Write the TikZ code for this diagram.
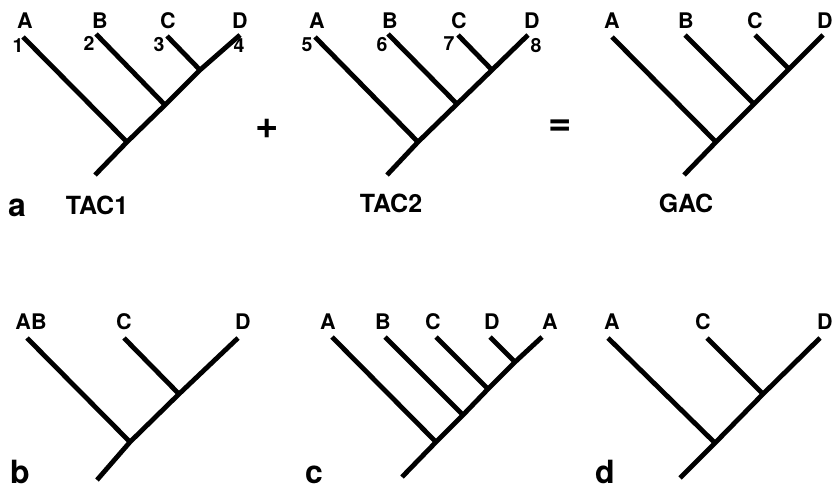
\documentclass[tikz,border=0pt]{standalone}
\usepackage{fontspec}
\setmainfont{TeX Gyre Heros}
\begin{document}
\begin{tikzpicture}[x=1bp,y=-1bp,
  br/.style={line width=4.8bp},
  tiplab/.style={font=\fontsize{21.5bp}{22bp}\selectfont\bfseries, anchor=base, inner sep=0pt},
  numlab/.style={font=\fontsize{19.5bp}{20bp}\selectfont\bfseries, anchor=base, inner sep=0pt},
  treelab/.style={font=\fontsize{25bp}{25bp}\selectfont\bfseries, anchor=base, inner sep=0pt},
  panlab/.style={font=\fontsize{32bp}{32bp}\selectfont\bfseries, anchor=base, inner sep=0pt},
  oplab/.style={font=\fontsize{40bp}{40bp}\selectfont\bfseries, inner sep=0pt}]
\useasboundingbox (0,0) rectangle (834,489);

% ---------- Tree a: TAC1 ----------
\coordinate (a-A) at (23,37);
\coordinate (a-B) at (96,34);
\coordinate (a-C) at (167,36);
\coordinate (a-D) at (240,35);
\coordinate (a-j1) at (127,142);
\coordinate (a-j2) at (165,105);
\coordinate (a-j3) at (200,70);
\coordinate (a-r) at (95,175);
\draw[br] (a-r) -- (a-j1) -- (a-j2) -- (a-j3) -- (a-D);
\draw[br] (a-A) -- (a-j1);
\draw[br] (a-B) -- (a-j2);
\draw[br] (a-C) -- (a-j3);
\node[tiplab] (a-lA) at (25,29) {A};
\node[tiplab] (a-lB) at (100,29) {B};
\node[tiplab] (a-lC) at (168,29) {C};
\node[tiplab] (a-lD) at (240,29) {D};
\node[numlab] (a-n1) at (18,53) {1};
\node[numlab] (a-n2) at (89,51) {2};
\node[numlab] (a-n3) at (159,52) {3};
\node[numlab] (a-n4) at (239,53) {4};
\node[panlab] (pa) at (17,217) {a};
\node[treelab] (tac1) at (97,215) {TAC1};
\node[oplab] (plus) at (267,129) {+};

% ---------- Tree TAC2 ----------
\coordinate (t-A) at (315,37);
\coordinate (t-B) at (388,34);
\coordinate (t-C) at (458,35);
\coordinate (t-D) at (528,35);
\coordinate (t-j1) at (418,142);
\coordinate (t-j2) at (457,104);
\coordinate (t-j3) at (492,70);
\coordinate (t-r) at (387,175);
\draw[br] (t-r) -- (t-j1) -- (t-j2) -- (t-j3) -- (t-D);
\draw[br] (t-A) -- (t-j1);
\draw[br] (t-B) -- (t-j2);
\draw[br] (t-C) -- (t-j3);
\node[tiplab] (t-lA) at (317,29) {A};
\node[tiplab] (t-lB) at (390,29) {B};
\node[tiplab] (t-lC) at (459,29) {C};
\node[tiplab] (t-lD) at (532,29) {D};
\node[numlab] (t-n5) at (307,52) {5};
\node[numlab] (t-n6) at (382,52) {6};
\node[numlab] (t-n7) at (449,51) {7};
\node[numlab] (t-n8) at (536,53) {8};
\node[treelab] (tac2) at (391,213) {TAC2};
\node[oplab] (equal) at (560,128) {=};

% ---------- Tree GAC ----------
\coordinate (g-A) at (612,37);
\coordinate (g-B) at (685,35);
\coordinate (g-C) at (755,35);
\coordinate (g-D) at (823,35);
\coordinate (g-j1) at (716,142);
\coordinate (g-j2) at (754,104);
\coordinate (g-j3) at (789,69);
\coordinate (g-r) at (684,175);
\draw[br] (g-r) -- (g-j1) -- (g-j2) -- (g-j3) -- (g-D);
\draw[br] (g-A) -- (g-j1);
\draw[br] (g-B) -- (g-j2);
\draw[br] (g-C) -- (g-j3);
\node[tiplab] (g-lA) at (612,29) {A};
\node[tiplab] (g-lB) at (686,29) {B};
\node[tiplab] (g-lC) at (755,29) {C};
\node[tiplab] (g-lD) at (825,29) {D};
\node[treelab] (gac) at (686,213) {GAC};

% ---------- Tree b ----------
\coordinate (b-AB) at (27,338);
\coordinate (b-C) at (124,338);
\coordinate (b-D) at (238,338);
\coordinate (b-j1) at (130,442);
\coordinate (b-j2) at (179,394);
\coordinate (b-r) at (97,480);
\draw[br] (b-r) -- (b-j1) -- (b-j2) -- (b-D);
\draw[br] (b-AB) -- (b-j1);
\draw[br] (b-C) -- (b-j2);
\node[tiplab] (b-lAB) at (31,330) {AB};
\node[tiplab] (b-lC) at (124,330) {C};
\node[tiplab] (b-lD) at (243,330) {D};
\node[panlab] (pb) at (20,483) {b};

% ---------- Tree c ----------
\coordinate (c-A) at (332,337);
\coordinate (c-B) at (385,337);
\coordinate (c-C) at (436,337);
\coordinate (c-D) at (490,337);
\coordinate (c-A2) at (542,337);
\coordinate (c-j1) at (436,442);
\coordinate (c-j2) at (463,415);
\coordinate (c-j3) at (488,389);
\coordinate (c-j4) at (515,362);
\coordinate (c-r) at (402,477);
\draw[br] (c-r) -- (c-j1) -- (c-j2) -- (c-j3) -- (c-j4) -- (c-A2);
\draw[br] (c-A) -- (c-j1);
\draw[br] (c-B) -- (c-j2);
\draw[br] (c-C) -- (c-j3);
\draw[br] (c-D) -- (c-j4);
\node[tiplab] (c-lA) at (328,330) {A};
\node[tiplab] (c-lB) at (383,330) {B};
\node[tiplab] (c-lC) at (433,330) {C};
\node[tiplab] (c-lD) at (492,330) {D};
\node[tiplab] (c-lA2) at (550,330) {A};
\node[panlab] (pc) at (314,483) {c};

% ---------- Tree d ----------
\coordinate (d-A) at (608,338);
\coordinate (d-C) at (707,338);
\coordinate (d-D) at (820,338);
\coordinate (d-j1) at (715,443);
\coordinate (d-j2) at (763,394);
\coordinate (d-r) at (680,478);
\draw[br] (d-r) -- (d-j1) -- (d-j2) -- (d-D);
\draw[br] (d-A) -- (d-j1);
\draw[br] (d-C) -- (d-j2);
\node[tiplab] (d-lA) at (612,330) {A};
\node[tiplab] (d-lC) at (703,330) {C};
\node[tiplab] (d-lD) at (825,330) {D};
\node[panlab] (pd) at (605,483) {d};
\end{tikzpicture}
\end{document}
